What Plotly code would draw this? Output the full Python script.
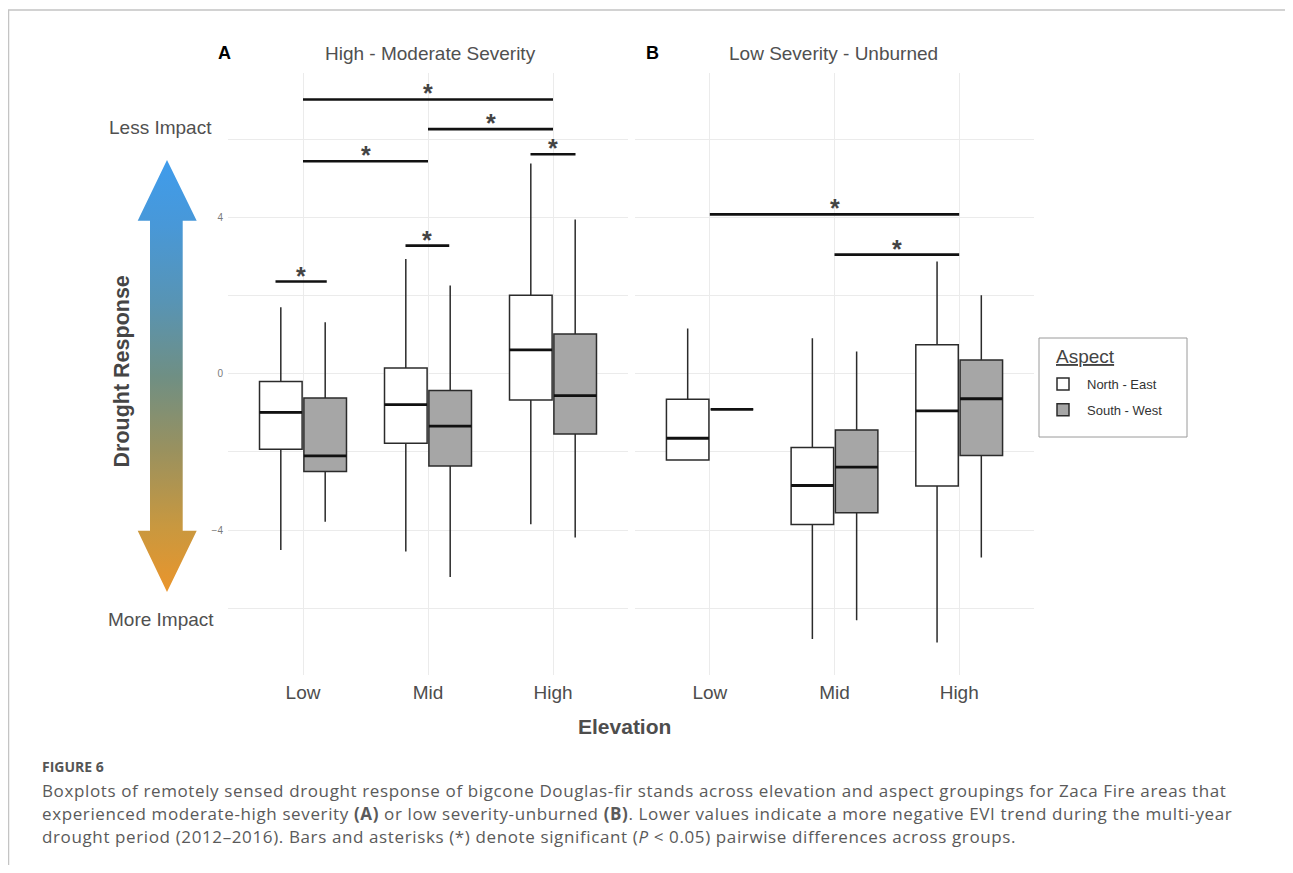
import base64
import plotly.graph_objects as go

# page is 1293x873; the html body adds an 8px margin, so the figure is sized to fit
PAGE_W, PAGE_H = 1293, 873
OX, OY = 8, 8
W, H = PAGE_W - OX, PAGE_H - 2 * OY

# ---------------- data ----------------
elevation = ["Low", "Mid", "High"]
aspects = ["North - East", "South - West"]

# Panel A: High - Moderate Severity
a_ne_upper = [1.70, 2.94, 5.38]
a_ne_q3 = [-0.20, 0.15, 2.01]
a_ne_median = [-0.99, -0.79, 0.61]
a_ne_q1 = [-1.93, -1.78, -0.67]
a_ne_lower = [-4.51, -4.55, -3.85]

a_sw_upper = [1.32, 2.26, 3.95]
a_sw_q3 = [-0.62, -0.43, 1.02]
a_sw_median = [-2.10, -1.34, -0.56]
a_sw_q1 = [-2.50, -2.36, -1.54]
a_sw_lower = [-3.79, -5.20, -4.19]

# Panel B: Low Severity - Unburned
b_ne_upper = [1.16, 0.91, 2.87]
b_ne_q3 = [-0.65, -1.89, 0.74]
b_ne_median = [-1.65, -2.86, -0.95]
b_ne_q1 = [-2.21, -3.86, -2.87]
b_ne_lower = [-2.21, -6.79, -6.88]

b_sw_upper = [-0.91, 0.57, 2.01]
b_sw_q3 = [-0.91, -1.44, 0.35]
b_sw_median = [-0.91, -2.39, -0.64]
b_sw_q1 = [-0.91, -3.56, -2.09]
b_sw_lower = [-0.91, -6.31, -4.70]

# significance brackets (panel, from, to [category index], height)
sig_panel = ["A", "A", "A", "A", "A", "A", "B", "B"]
sig_from = [0, 1, 1.82, 0, 0.82, -0.22, 0, 1]
sig_to = [2, 2, 2.18, 1, 1.17, 0.19, 2, 2]
sig_y = [7.02, 6.26, 5.62, 5.44, 3.28, 2.36, 4.08, 3.05]
sig_label = ["*"] * 8

panel_titles = ["High - Moderate Severity", "Low Severity - Unburned"]
panel_letters = ["A", "B"]
legend_title = "Aspect"

caption_head = "FIGURE 6"
caption_lines = [
    "Boxplots of remotely sensed drought response of bigcone Douglas-fir stands across elevation and aspect groupings for Zaca Fire areas that",
    "experienced moderate-high severity <b>(A)</b> or low severity-unburned <b>(B)</b>. Lower values indicate a more negative EVI trend during the multi-year",
    "drought period (2012\u20132016). Bars and asterisks (*) denote significant (<i>P</i> &lt; 0.05) pairwise differences across groups.",
]


# ---------------- figure ----------------
def px(x):
    return (x - OX) / W


def py(y):
    return 1 - (y - OY) / H


FONT = "Liberation Sans, Arial, sans-serif"
CAP_FONT = "Open Sans, Lato, sans-serif"

fig = go.Figure()

panels = [
    ("x", "y", (a_ne_q1, a_ne_median, a_ne_q3, a_ne_lower, a_ne_upper),
     (a_sw_q1, a_sw_median, a_sw_q3, a_sw_lower, a_sw_upper), True),
    ("x2", "y2", (b_ne_q1, b_ne_median, b_ne_q3, b_ne_lower, b_ne_upper),
     (b_sw_q1, b_sw_median, b_sw_q3, b_sw_lower, b_sw_upper), False),
]
fills = ["#ffffff", "#a6a6a6"]

for xa, ya, ne, sw, show in panels:
    for name, stats, fill in zip(aspects, (ne, sw), fills):
        q1, med, q3, lo, hi = stats
        fig.add_trace(go.Box(
            x=elevation, q1=q1, median=med, q3=q3, lowerfence=lo, upperfence=hi,
            name=name, legendgroup=name, showlegend=show, offsetgroup=name,
            fillcolor=fill, line=dict(color="#2b2b2b", width=1.5),
            whiskerwidth=0, boxpoints=False, xaxis=xa, yaxis=ya,
            hoverinfo="skip",
        ))
        # thicker median bar drawn on top, same slot
        fig.add_trace(go.Box(
            x=elevation, q1=med, median=med, q3=med, lowerfence=med, upperfence=med,
            name=name, legendgroup=name, showlegend=False, offsetgroup=name,
            fillcolor="rgba(0,0,0,0)", line=dict(color="#111111", width=2.8),
            whiskerwidth=0, boxpoints=False, xaxis=xa, yaxis=ya,
            hoverinfo="skip",
        ))

shapes = []
annotations = []

# significance brackets
for pnl, x0, x1, yv, lab in zip(sig_panel, sig_from, sig_to, sig_y, sig_label):
    xr, yr = ("x", "y") if pnl == "A" else ("x2", "y2")
    shapes.append(dict(type="line", xref=xr, yref=yr, x0=x0, x1=x1, y0=yv, y1=yv,
                       line=dict(color="#111111", width=2.6)))
    annotations.append(dict(xref=xr, yref=yr, x=(x0 + x1) / 2, y=yv, text=f"<b>{lab}</b>",
                            showarrow=False, yanchor="middle", yshift=6,
                            font=dict(family=FONT, size=25, color="#444444")))

# outer frame
shapes.append(dict(type="path", xref="paper", yref="paper", layer="above",
                   path=f"M {px(8.5)} {py(880)} L {px(8.5)} {py(10)} L {px(1288)} {py(10)} L {px(1288)} {py(880)}",
                   line=dict(color="#c4c4c4", width=1.5)))

# legend frame
shapes.append(dict(type="rect", xref="paper", yref="paper", layer="above",
                   x0=px(1039), x1=px(1187), y0=py(437), y1=py(338),
                   line=dict(color="#9a9a9a", width=1)))


def ann(text, x, y, size, color, bold=False, xanchor="center", angle=0, family=FONT):
    if bold:
        text = f"<b>{text}</b>"
    annotations.append(dict(xref="paper", yref="paper", x=px(x), y=py(y), text=text,
                            showarrow=False, xanchor=xanchor, yanchor="middle",
                            textangle=angle, font=dict(family=family, size=size, color=color)))


ann(panel_letters[0], 224, 53, 18, "#000000", bold=True)
ann(panel_titles[0], 430, 53, 19, "#505050")
ann(panel_letters[1], 652.5, 53, 18, "#000000", bold=True)
ann(panel_titles[1], 833, 53, 19, "#505050")
ann("Less Impact", 160.5, 127, 19, "#505050")
ann("More Impact", 160.5, 619, 19, "#505050")
ann("Drought Response", 121.5, 372, 21.5, "#454545", bold=True, angle=-90)
ann("Elevation", 624.5, 726, 21, "#4d4d4d", bold=True)
ann(f"<u>{legend_title}</u>", 1054, 356, 19, "#444444", xanchor="left")

ann(caption_head, 40, 766, 14, "#555555", bold=True, xanchor="left", family=CAP_FONT)
for i, line in enumerate(caption_lines):
    ann(f'<span style="letter-spacing:0.62px">{line}</span>', 40, 790 + 23 * i, 17,
        "#5a5a5a", xanchor="left", family=CAP_FONT)

# gradient arrow as inline svg image
svg = (
    '<svg xmlns="http://www.w3.org/2000/svg" width="60" height="432" viewBox="0 0 60 432" '
    'preserveAspectRatio="none"><defs><linearGradient id="g" x1="0" y1="0" x2="0" y2="1">'
    '<stop offset="0" stop-color="#3f9cec"/>'
    '<stop offset="0.15" stop-color="#4898d8"/>'
    '<stop offset="0.33" stop-color="#5894b4"/>'
    '<stop offset="0.5" stop-color="#6f8f84"/>'
    '<stop offset="0.67" stop-color="#99915f"/>'
    '<stop offset="0.85" stop-color="#c9983f"/>'
    '<stop offset="1" stop-color="#ea952c"/>'
    '</linearGradient></defs>'
    '<polygon points="30,0 59.7,60.7 45.7,60.7 45.7,370.7 59.7,370.7 30,432 0.7,370.7 13,370.7 13,60.7 0.7,60.7" fill="url(#g)"/>'
    '</svg>'
)
src = "data:image/svg+xml;base64," + base64.b64encode(svg.encode()).decode()

axis_common = dict(showgrid=True, gridcolor="#ebebeb", gridwidth=1, zeroline=False,
                   showline=False, ticks="")

fig.update_layout(
    width=W, height=H, margin=dict(l=0, r=0, t=0, b=0),
    paper_bgcolor="white", plot_bgcolor="white",
    boxmode="group", boxgap=0.29, boxgroupgap=0.04,
    font=dict(family=FONT),
    xaxis=dict(domain=[px(228), px(628)], anchor="y", type="category",
               categoryorder="array", categoryarray=elevation, range=[-0.6, 2.6],
               tickfont=dict(size=19, color="#4d4d4d"), ticklabelstandoff=4, **axis_common),
    xaxis2=dict(domain=[px(635), px(1034)], anchor="y2", type="category",
                categoryorder="array", categoryarray=elevation, range=[-0.6, 2.6],
                tickfont=dict(size=19, color="#4d4d4d"), ticklabelstandoff=4, **axis_common),
    yaxis=dict(domain=[py(675), py(73.3)], anchor="x", range=[-7.71, 7.69],
               tick0=0, dtick=4, tickfont=dict(size=10, color="#7a7a7a"), ticklabelstandoff=4,
               minor=dict(tick0=0, dtick=2, showgrid=True, gridcolor="#ebebeb", gridwidth=1),
               **axis_common),
    yaxis2=dict(domain=[py(675), py(73.3)], anchor="x2", matches="y", showticklabels=False,
                minor=dict(tick0=0, dtick=2, showgrid=True, gridcolor="#ebebeb", gridwidth=1),
                tick0=0, dtick=4, **axis_common),
    legend=dict(x=px(1039), y=py(369), xanchor="left", yanchor="top",
                borderwidth=0, bgcolor="rgba(0,0,0,0)",
                font=dict(family=FONT, size=13, color="#333333"),
                itemwidth=38, tracegroupgap=6),
    shapes=shapes,
    annotations=annotations,
    images=[dict(source=src, xref="paper", yref="paper", x=px(137), y=py(160),
                 sizex=60 / W, sizey=432 / H, sizing="stretch", xanchor="left",
                 yanchor="top", layer="above")],
    showlegend=True,
)

fig.write_html("out.html")
